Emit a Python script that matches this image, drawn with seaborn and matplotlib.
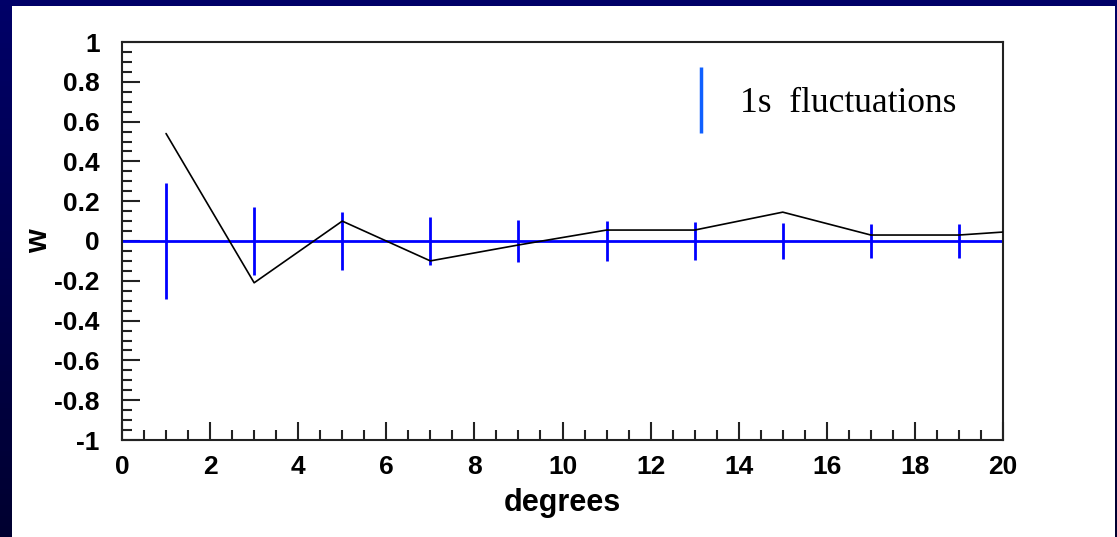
import numpy as np
import matplotlib
matplotlib.use("Agg")
import matplotlib.pyplot as plt
from matplotlib.colors import LinearSegmentedColormap
from matplotlib.lines import Line2D
from matplotlib.patches import Rectangle
from matplotlib.ticker import MultipleLocator
import seaborn as sns

# ── Data ─────────────────────────────────────────────────────
degrees = [1, 3, 5, 7, 9, 11, 13, 15, 17, 19, 21]
w_values = [0.54, -0.21, 0.10, -0.10, -0.02, 0.055, 0.055, 0.145, 0.03, 0.03, 0.06]

bar_degrees = [1, 3, 5, 7, 9, 11, 13, 15, 17, 19]
sigma = [0.29, 0.17, 0.145, 0.12, 0.105, 0.10, 0.095, 0.09, 0.085, 0.085]

legend_text = "1s  fluctuations"

# ── Figure with navy slide frame ─────────────────────────────
sns.set_style("ticks")
W, H = 1117, 537
fig = plt.figure(figsize=(W / 100, H / 100), dpi=100)

bg = fig.add_axes([0, 0, 1, 1])
navy = LinearSegmentedColormap.from_list("navy", ["#000068", "#000030"])
bg.imshow(np.linspace(0, 1, 100).reshape(-1, 1), aspect="auto", cmap=navy,
          extent=[0, 1, 0, 1])
bg.add_patch(Rectangle((12 / W, 0), (1115 - 12) / W, (H - 6) / H,
                       facecolor="white", edgecolor="none"))
bg.set_xlim(0, 1)
bg.set_ylim(0, 1)
bg.axis("off")

ax = fig.add_axes([122 / W, (H - 440) / H, (1003 - 122) / W, (440 - 42) / H])
ax.set_facecolor("white")

# zero line and 1-sigma bars
ax.axhline(0, color="#0000ff", lw=2, zorder=2)
ax.vlines(bar_degrees, [-s for s in sigma], sigma, color="#0000ff", lw=2, zorder=2)

sns.lineplot(x=degrees, y=w_values, color="black", lw=1.2, ax=ax, zorder=3)

ax.set_xlim(0, 20)
ax.set_ylim(-1, 1)
ax.xaxis.set_major_locator(MultipleLocator(2))
ax.xaxis.set_minor_locator(MultipleLocator(0.5))
ax.yaxis.set_minor_locator(MultipleLocator(0.05))
yt = np.round(np.arange(-1, 1.01, 0.2), 1)
ax.set_yticks(yt)
ax.set_yticklabels([("%g" % v) if abs(v) > 1e-9 else "0" for v in yt])

ax.tick_params(which="both", direction="in", top=False, right=False,
               color="#222222", width=1.5, labelcolor="black")
ax.tick_params(which="major", length=13, labelsize=19, pad=11)
ax.tick_params(axis="y", which="major", pad=16)
ax.tick_params(which="minor", length=7)
for lbl in ax.get_xticklabels() + ax.get_yticklabels():
    lbl.set_fontweight("bold")
    lbl.set_fontfamily("Liberation Sans")
for sp in ax.spines.values():
    sp.set_visible(True)
    sp.set_color("#222222")
    sp.set_linewidth(1.5)

ax.set_xlabel("degrees", fontsize=22, fontweight="bold", color="black",
              family="Liberation Sans", labelpad=6)
ax.set_ylabel("w", fontsize=22, fontweight="bold", color="black",
              family="Liberation Sans", labelpad=0)

handle = Line2D([], [], color="#1060ff", marker="|", linestyle="none",
                markersize=47, markeredgewidth=2.5)
leg = ax.legend([handle], [legend_text], loc="center left",
                bbox_to_anchor=(0.625, 0.845), frameon=False,
                prop={"family": "Liberation Serif", "size": 25.5},
                handlelength=0.6, handletextpad=0.8, borderpad=0,
                labelcolor="black")

fig.savefig("out.png", dpi=100)
